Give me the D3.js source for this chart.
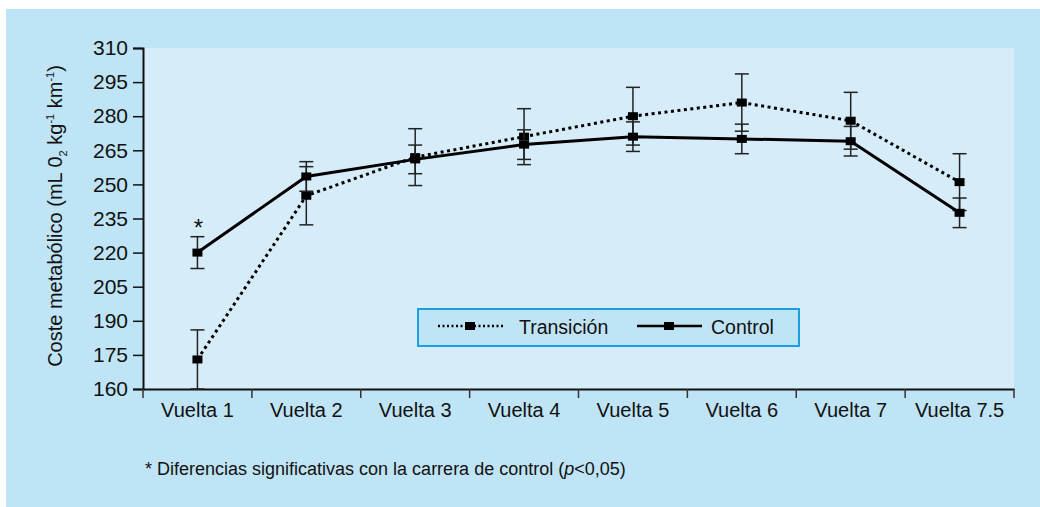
<!DOCTYPE html>
<html>
<head>
<meta charset="utf-8">
<script src="https://cdn.jsdelivr.net/npm/d3@7"></script>
<style>
  body { margin: 0; background: #fff; }
  svg { display: block; font-family: "Liberation Sans", Arial, sans-serif; }
</style>
</head>
<body>
<div id="viz"></div>
<script>
"use strict";

const categories = ["Vuelta 1", "Vuelta 2", "Vuelta 3", "Vuelta 4", "Vuelta 5", "Vuelta 6", "Vuelta 7", "Vuelta 7.5"];
const transicion = [173, 245, 262, 271, 280, 286, 278, 251];
const transicionErr = [13, 12.8, 12.5, 12.3, 12.7, 12.6, 12.5, 12.5];
const control = [220, 253.5, 261, 267.5, 271, 270, 269, 237.5];
const controlErr = [7, 6.5, 6.3, 6.5, 6.5, 6.5, 6.5, 6.5];
const yTicks = [160, 175, 190, 205, 220, 235, 250, 265, 280, 295, 310];

function drawChart() {
    let width = 1040;
    let height = 507;

    let svg = d3.select('#viz')
                .append('svg')
                .attr('width', width)
                .attr('height', height);

    // outer panel
    svg.append('rect')
       .attr('x', 6).attr('y', 9)
       .attr('width', width - 6).attr('height', height - 9)
       .attr('fill', '#bfe4f6');

    let pLeft = 143, pRight = 1014, pTop = 48, pBottom = 389;

    // plot area
    svg.append('rect')
       .attr('x', pLeft).attr('y', pTop)
       .attr('width', pRight - pLeft).attr('height', pBottom - pTop)
       .attr('fill', '#d6ecf9');

    let xScale = d3.scaleBand()
                   .domain(categories)
                   .range([pLeft, pRight]);

    let yScale = d3.scaleLinear()
                   .domain([160, 310])
                   .range([pBottom, pTop]);

    // y axis
    let yAxis = svg.append('g')
       .attr('transform', `translate(${pLeft},0)`)
       .call(d3.axisLeft(yScale).tickValues(yTicks).tickSize(10).tickPadding(5));
    yAxis.select('.domain').attr('stroke', '#111').attr('stroke-width', 2);
    yAxis.selectAll('.tick line').attr('stroke', '#111').attr('stroke-width', 1.5);
    yAxis.selectAll('.tick text')
         .attr('font-size', '21px').attr('fill', '#111')
         .attr('font-family', '"Liberation Sans", Arial, sans-serif');

    // x axis, ticks sit on the band edges
    let xAxis = svg.append('g')
       .attr('transform', `translate(0,${pBottom})`)
       .call(d3.axisBottom(xScale).tickSize(0).tickPadding(14));
    xAxis.select('.domain').attr('stroke', '#111').attr('stroke-width', 2);
    xAxis.selectAll('.tick text')
         .attr('font-size', '20px').attr('fill', '#111')
         .attr('font-family', '"Liberation Sans", Arial, sans-serif');

    let edges = categories.map(c => xScale(c)).concat([xScale.range()[1]]);
    svg.append('g').selectAll('line')
       .data(edges)
       .enter()
       .append('line')
       .attr('x1', d => d).attr('x2', d => d)
       .attr('y1', pBottom).attr('y2', pBottom + 9)
       .attr('stroke', '#333').attr('stroke-width', 1.5);

    // y axis title
    svg.append('text')
       .attr('transform', 'translate(62,216) rotate(-90)')
       .attr('text-anchor', 'middle')
       .attr('font-size', '20px')
       .attr('fill', '#111')
       .html('Coste metabólico (mL 0<tspan font-size="11px" dy="5">2</tspan><tspan dy="-5"> kg</tspan><tspan font-size="11px" dy="-8">-1</tspan><tspan dy="8"> km</tspan><tspan font-size="11px" dy="-8">-1</tspan><tspan dy="8">)</tspan>');

    let cx = d => xScale(d) + xScale.bandwidth() / 2;

    let series = [
        {name: 'Transición', values: transicion, err: transicionErr, dash: '3,3.5'},
        {name: 'Control', values: control, err: controlErr, dash: null}
    ];

    let line = d3.line()
                 .x(d => cx(d.cat))
                 .y(d => yScale(d.v));

    series.forEach(s => {
        let pts = categories.map((c, i) => ({cat: c, v: s.values[i], e: s.err[i]}));

        svg.append('path')
           .datum(pts)
           .attr('d', line)
           .attr('fill', 'none')
           .attr('stroke', '#000')
           .attr('stroke-width', 3)
           .attr('stroke-dasharray', s.dash);

        let eb = svg.append('g').selectAll('g')
           .data(pts)
           .enter()
           .append('g');
        eb.append('line')
          .attr('x1', d => cx(d.cat)).attr('x2', d => cx(d.cat))
          .attr('y1', d => yScale(d.v - d.e)).attr('y2', d => yScale(d.v + d.e))
          .attr('stroke', '#222').attr('stroke-width', 1.5);
        eb.append('line')
          .attr('x1', d => cx(d.cat) - 7).attr('x2', d => cx(d.cat) + 7)
          .attr('y1', d => yScale(d.v + d.e)).attr('y2', d => yScale(d.v + d.e))
          .attr('stroke', '#222').attr('stroke-width', 1.5);
        eb.append('line')
          .attr('x1', d => cx(d.cat) - 7).attr('x2', d => cx(d.cat) + 7)
          .attr('y1', d => yScale(d.v - d.e)).attr('y2', d => yScale(d.v - d.e))
          .attr('stroke', '#222').attr('stroke-width', 1.5);

        svg.append('g').selectAll('rect')
           .data(pts)
           .enter()
           .append('rect')
           .attr('x', d => cx(d.cat) - 5)
           .attr('y', d => yScale(d.v) - 4)
           .attr('width', 10).attr('height', 8)
           .attr('fill', '#000');
    });

    // significance mark
    svg.append('text')
       .attr('x', cx(categories[0]) + 1)
       .attr('y', yScale(control[0] + controlErr[0]) - 1)
       .attr('text-anchor', 'middle')
       .attr('font-size', '24px')
       .attr('fill', '#111')
       .text('*');

    // legend
    let lg = svg.append('g').attr('transform', 'translate(418,309)');
    lg.append('rect')
      .attr('width', 381).attr('height', 37)
      .attr('fill', '#bfe4f6')
      .attr('stroke', '#1a9fe0').attr('stroke-width', 2);

    let legendItems = [
        {x: 20, tx: 101, s: series[0]},
        {x: 219, tx: 293, s: series[1]}
    ];
    legendItems.forEach(it => {
        lg.append('line')
          .attr('x1', it.x).attr('x2', it.x + 65)
          .attr('y1', 17).attr('y2', 17)
          .attr('stroke', '#000').attr('stroke-width', 2.5)
          .attr('stroke-dasharray', it.s.dash ? '2,2.5' : null);
        lg.append('rect')
          .attr('x', it.x + 27).attr('y', 13)
          .attr('width', 10).attr('height', 8)
          .attr('fill', '#000');
        lg.append('text')
          .attr('x', it.tx).attr('y', 25)
          .attr('font-size', '19.5px').attr('fill', '#111')
          .text(it.s.name);
    });

    // footnote
    svg.append('text')
       .attr('x', 145).attr('y', 475)
       .attr('font-size', '18px').attr('fill', '#111')
       .html('* Diferencias significativas con la carrera de control (<tspan font-style="italic">p</tspan>&lt;0,05)');
}

drawChart();
</script>
</body>
</html>
